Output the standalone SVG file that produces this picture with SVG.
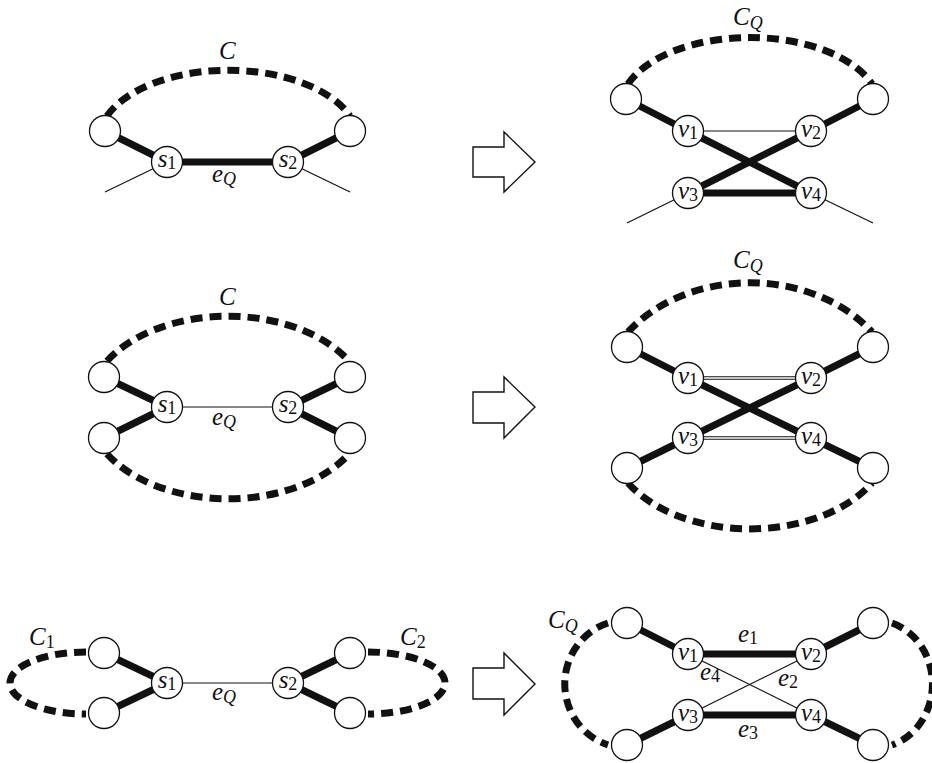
<svg xmlns="http://www.w3.org/2000/svg" width="932" height="763" viewBox="0 0 932 763">
<defs>
<style>
.thick{stroke:#111;stroke-width:7;fill:none;stroke-linecap:butt}
.thin{stroke:#111;stroke-width:1.2;fill:none}
.dbl{stroke:#111;stroke-width:3.4;fill:none}
.dblin{stroke:#fff;stroke-width:1.3;fill:none}
.dash{stroke:#111;stroke-width:7;fill:none;stroke-dasharray:12 7}
.node{fill:#fff;stroke:#111;stroke-width:1.3}
.arrow{fill:#fff;stroke:#111;stroke-width:1.4;stroke-linejoin:miter}
.m{font-style:italic;font-size:25px;fill:#111}
.sub{font-style:normal;font-size:18px}
.subi{font-style:italic;font-size:18px}
</style>
</defs>
<rect width="932" height="763" fill="#fff"/>

<g id="connectors">
<path class="dash" d="M107,116 A130,71 0 0 1 350,116"/>
<line class="thick" x1="105" y1="131" x2="167" y2="162"/>
<line class="thick" x1="167" y1="162" x2="288" y2="162"/>
<line class="thick" x1="288" y1="162" x2="350" y2="131"/>
<line class="thin" x1="167" y1="162" x2="105" y2="192"/>
<line class="thin" x1="288" y1="162" x2="350" y2="192"/>
<path class="dash" d="M628,84 A130,71 0 0 1 872,84"/>
<line class="thick" x1="626" y1="99" x2="688" y2="131"/>
<line class="thick" x1="873" y1="99" x2="811" y2="131"/>
<line class="thin" x1="688" y1="131" x2="811" y2="131"/>
<line class="thick" x1="688" y1="131" x2="811" y2="193"/>
<line class="thick" x1="811" y1="131" x2="688" y2="193"/>
<line class="thick" x1="688" y1="193" x2="811" y2="193"/>
<line class="thin" x1="688" y1="193" x2="627" y2="223"/>
<line class="thin" x1="811" y1="193" x2="873" y2="223"/>
<path class="dash" d="M107,361 A141,92 0 0 1 349,361"/>
<path class="dash" d="M107,454 A141,92 0 0 0 349,454"/>
<line class="thick" x1="104" y1="377" x2="167" y2="407"/>
<line class="thick" x1="104" y1="438" x2="167" y2="407"/>
<line class="thin" x1="167" y1="407" x2="288" y2="407"/>
<line class="thick" x1="288" y1="407" x2="350" y2="377"/>
<line class="thick" x1="288" y1="407" x2="350" y2="438"/>
<path class="dash" d="M628,332 A152,122 0 0 1 872,332"/>
<path class="dash" d="M628,483 A141,92 0 0 0 872,483"/>
<line class="thick" x1="627" y1="347" x2="688" y2="378"/>
<line class="thick" x1="873" y1="347" x2="811" y2="378"/>
<line class="thick" x1="688" y1="378" x2="811" y2="438"/>
<line class="thick" x1="811" y1="378" x2="688" y2="438"/>
<line class="thick" x1="688" y1="438" x2="627" y2="468"/>
<line class="thick" x1="811" y1="438" x2="873" y2="468"/>
<line class="dbl" x1="688" y1="378" x2="811" y2="378"/>
<line class="dblin" x1="703" y1="378" x2="796" y2="378"/>
<line class="dbl" x1="688" y1="438" x2="811" y2="438"/>
<line class="dblin" x1="703" y1="438" x2="796" y2="438"/>
<path class="dash" d="M86,652 A76,31 0 0 0 86,714"/>
<path class="dash" d="M368,652 A77,31 0 0 1 368,714"/>
<line class="thick" x1="104" y1="653" x2="167" y2="683"/>
<line class="thick" x1="104" y1="713" x2="167" y2="683"/>
<line class="thin" x1="167" y1="683" x2="288" y2="683"/>
<line class="thick" x1="288" y1="683" x2="350" y2="653"/>
<line class="thick" x1="288" y1="683" x2="350" y2="713"/>
<path class="dash" d="M608,623 A62,64 0 0 0 608,745"/>
<path class="dash" d="M892,623 A58,64 0 0 1 892,745"/>
<line class="thick" x1="627" y1="623" x2="688" y2="654"/>
<line class="thick" x1="688" y1="654" x2="811" y2="654"/>
<line class="thick" x1="811" y1="654" x2="873" y2="623"/>
<line class="thick" x1="627" y1="745" x2="688" y2="715"/>
<line class="thick" x1="688" y1="715" x2="811" y2="715"/>
<line class="thick" x1="811" y1="715" x2="873" y2="745"/>
<line class="thin" x1="688" y1="654" x2="811" y2="715"/>
<line class="thin" x1="811" y1="654" x2="688" y2="715"/>
</g>

<g id="arrows">
<polygon class="arrow" points="473,147 504,147 504,132 535,162 504,192 504,177 473,177"/>
<polygon class="arrow" points="473,392 504,392 504,377 535,407 504,438 504,423 473,423"/>
<polygon class="arrow" points="473,668 504,668 504,653 535,684 504,715 504,699 473,699"/>
</g>

<g font-family="'Liberation Serif', 'Times New Roman', serif">
<g id="p1-a"><circle class="node" cx="105" cy="131" r="15.5"/></g>
<g id="p1-b"><circle class="node" cx="350" cy="131" r="15.5"/></g>
<g id="p1-s1"><circle class="node" cx="167" cy="162" r="15.5"/><text class="m" x="167" y="167" text-anchor="middle">s<tspan class="sub" dy="2">1</tspan></text></g>
<g id="p1-s2"><circle class="node" cx="288" cy="162" r="15.5"/><text class="m" x="288" y="167" text-anchor="middle">s<tspan class="sub" dy="2">2</tspan></text></g>

<g id="p2-a"><circle class="node" cx="626" cy="99" r="15.5"/></g>
<g id="p2-b"><circle class="node" cx="873" cy="99" r="15.5"/></g>
<g id="p2-v1"><circle class="node" cx="688" cy="131" r="15.5"/><text class="m" x="688" y="137" text-anchor="middle">v<tspan class="sub" dy="2">1</tspan></text></g>
<g id="p2-v2"><circle class="node" cx="811" cy="131" r="15.5"/><text class="m" x="811" y="137" text-anchor="middle">v<tspan class="sub" dy="2">2</tspan></text></g>
<g id="p2-v3"><circle class="node" cx="688" cy="193" r="15.5"/><text class="m" x="688" y="199" text-anchor="middle">v<tspan class="sub" dy="2">3</tspan></text></g>
<g id="p2-v4"><circle class="node" cx="811" cy="193" r="15.5"/><text class="m" x="811" y="199" text-anchor="middle">v<tspan class="sub" dy="2">4</tspan></text></g>

<g id="p3-a"><circle class="node" cx="104" cy="377" r="15.5"/></g>
<g id="p3-b"><circle class="node" cx="104" cy="438" r="15.5"/></g>
<g id="p3-c"><circle class="node" cx="350" cy="377" r="15.5"/></g>
<g id="p3-d"><circle class="node" cx="350" cy="438" r="15.5"/></g>
<g id="p3-s1"><circle class="node" cx="167" cy="407" r="15.5"/><text class="m" x="167" y="412" text-anchor="middle">s<tspan class="sub" dy="2">1</tspan></text></g>
<g id="p3-s2"><circle class="node" cx="288" cy="407" r="15.5"/><text class="m" x="288" y="412" text-anchor="middle">s<tspan class="sub" dy="2">2</tspan></text></g>

<g id="p4-a"><circle class="node" cx="627" cy="347" r="15.5"/></g>
<g id="p4-b"><circle class="node" cx="873" cy="347" r="15.5"/></g>
<g id="p4-c"><circle class="node" cx="627" cy="468" r="15.5"/></g>
<g id="p4-d"><circle class="node" cx="873" cy="468" r="15.5"/></g>
<g id="p4-v1"><circle class="node" cx="688" cy="378" r="15.5"/><text class="m" x="688" y="384" text-anchor="middle">v<tspan class="sub" dy="2">1</tspan></text></g>
<g id="p4-v2"><circle class="node" cx="811" cy="378" r="15.5"/><text class="m" x="811" y="384" text-anchor="middle">v<tspan class="sub" dy="2">2</tspan></text></g>
<g id="p4-v3"><circle class="node" cx="688" cy="438" r="15.5"/><text class="m" x="688" y="444" text-anchor="middle">v<tspan class="sub" dy="2">3</tspan></text></g>
<g id="p4-v4"><circle class="node" cx="811" cy="438" r="15.5"/><text class="m" x="811" y="444" text-anchor="middle">v<tspan class="sub" dy="2">4</tspan></text></g>

<g id="p5-a"><circle class="node" cx="104" cy="653" r="15.5"/></g>
<g id="p5-b"><circle class="node" cx="104" cy="713" r="15.5"/></g>
<g id="p5-c"><circle class="node" cx="350" cy="653" r="15.5"/></g>
<g id="p5-d"><circle class="node" cx="350" cy="713" r="15.5"/></g>
<g id="p5-s1"><circle class="node" cx="167" cy="683" r="15.5"/><text class="m" x="167" y="688" text-anchor="middle">s<tspan class="sub" dy="2">1</tspan></text></g>
<g id="p5-s2"><circle class="node" cx="288" cy="683" r="15.5"/><text class="m" x="288" y="688" text-anchor="middle">s<tspan class="sub" dy="2">2</tspan></text></g>

<g id="p6-a"><circle class="node" cx="627" cy="623" r="15.5"/></g>
<g id="p6-b"><circle class="node" cx="873" cy="623" r="15.5"/></g>
<g id="p6-c"><circle class="node" cx="627" cy="745" r="15.5"/></g>
<g id="p6-d"><circle class="node" cx="873" cy="745" r="15.5"/></g>
<g id="p6-v1"><circle class="node" cx="688" cy="654" r="15.5"/><text class="m" x="688" y="660" text-anchor="middle">v<tspan class="sub" dy="2">1</tspan></text></g>
<g id="p6-v2"><circle class="node" cx="811" cy="654" r="15.5"/><text class="m" x="811" y="660" text-anchor="middle">v<tspan class="sub" dy="2">2</tspan></text></g>
<g id="p6-v3"><circle class="node" cx="688" cy="715" r="15.5"/><text class="m" x="688" y="721" text-anchor="middle">v<tspan class="sub" dy="2">3</tspan></text></g>
<g id="p6-v4"><circle class="node" cx="811" cy="715" r="15.5"/><text class="m" x="811" y="721" text-anchor="middle">v<tspan class="sub" dy="2">4</tspan></text></g>

<g id="labels">
<text class="m" x="219" y="59">C</text>
<text class="m" x="212" y="182">e<tspan class="subi" dy="3">Q</tspan></text>
<text class="m" x="733" y="25">C<tspan class="subi" dy="4">Q</tspan></text>
<text class="m" x="219" y="305">C</text>
<text class="m" x="212" y="425">e<tspan class="subi" dy="3">Q</tspan></text>
<text class="m" x="733" y="268">C<tspan class="subi" dy="4">Q</tspan></text>
<text class="m" x="29" y="645">C<tspan class="sub" dy="3">1</tspan></text>
<text class="m" x="400" y="645">C<tspan class="sub" dy="3">2</tspan></text>
<text class="m" x="212" y="700">e<tspan class="subi" dy="3">Q</tspan></text>
<text class="m" x="548" y="628">C<tspan class="subi" dy="4">Q</tspan></text>
<text class="m" x="738" y="642">e<tspan class="sub" dy="2">1</tspan></text>
<text class="m" x="700" y="680">e<tspan class="sub" dy="2">4</tspan></text>
<text class="m" x="778" y="686">e<tspan class="sub" dy="2">2</tspan></text>
<text class="m" x="738" y="737">e<tspan class="sub" dy="2">3</tspan></text>
</g>
</g>
</svg>
